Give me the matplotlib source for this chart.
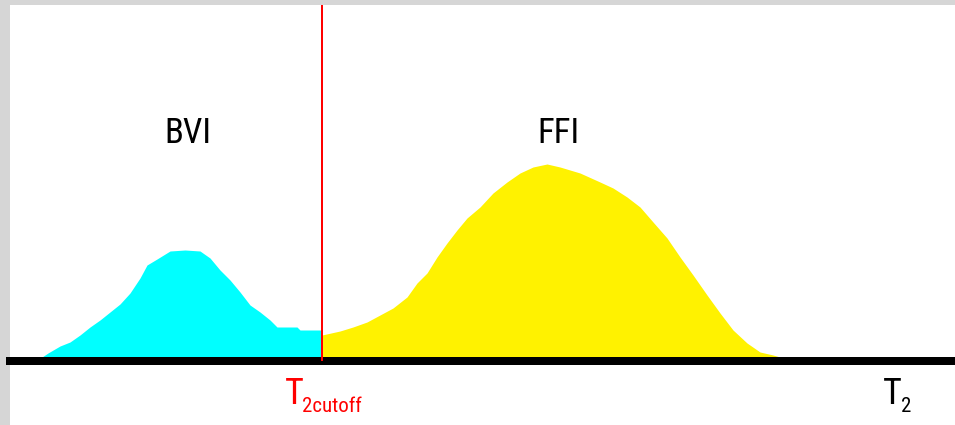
import matplotlib
matplotlib.use("Agg")
import matplotlib.pyplot as plt
from matplotlib.patches import Rectangle

# ---- data (x = T2 position, y = amplitude) ----
bvi_t2 = [42, 48, 60, 70, 80, 90, 100, 110, 120, 130, 140, 147, 157, 170,
          185, 200, 210, 220, 230, 240, 250, 260, 270, 277, 297, 300, 322]
bvi_amp = [0, 4, 11, 15, 22, 30, 37, 45, 53, 64, 79, 92, 98, 106,
           107, 106, 99, 87, 77, 65, 52, 45, 37, 30, 30, 27, 27]

ffi_t2 = [322, 340, 353, 367, 380, 393, 407, 417, 427, 437, 447, 457, 467,
          480, 493, 507, 520, 533, 547, 560, 580, 600, 613, 627, 640, 653,
          667, 680, 693, 707, 720, 733, 747, 760, 773, 780]
ffi_amp = [22, 26, 30, 35, 42, 49, 60, 74, 84, 100, 114, 127, 139,
           150, 164, 175, 184, 190, 193, 190, 184, 175, 169, 160, 150, 135,
           119, 100, 82, 62, 44, 27, 14, 5, 2, 0]

cutoff_t2 = 322
labels = ["BVI", "FFI"]
label_pos = [(188, 224), (558, 224)]

FONT = ["Liberation Sans Narrow", "Roboto Condensed", "Open Sans Condensed",
        "Liberation Sans", "DejaVu Sans"]

fig = plt.figure(figsize=(9.55, 4.25), dpi=100)
fig.patch.set_facecolor("white")

# scanned-looking grey border (top and left)
fig.add_artist(Rectangle((0, 1 - 5 / 425), 1, 5 / 425, transform=fig.transFigure,
                         facecolor="#d6d6d6", edgecolor="none", zorder=0))
fig.add_artist(Rectangle((0, 0), 10 / 955, 1, transform=fig.transFigure,
                         facecolor="#d6d6d6", edgecolor="none", zorder=0))

ax = fig.add_axes([0, 0, 1, 1])
ax.set_xlim(0, 955)
ax.set_ylim(-68, 357)
ax.axis("off")
ax.patch.set_alpha(0)

ax.fill_between(bvi_t2, 0, bvi_amp, color="#00ffff", linewidth=0, zorder=2)
ax.fill_between(ffi_t2, 0, ffi_amp, color="#fff200", linewidth=0, zorder=2)

# baseline (T2 axis)
ax.axhline(-4, xmin=10 / 955, xmax=1, color="black", linewidth=8 * 0.72, zorder=3)

# cutoff line
ax.plot([cutoff_t2, cutoff_t2], [-4, 352], color="#ff0000", linewidth=2 * 0.72,
        solid_capstyle="butt", zorder=4)

for lab, (x, y) in zip(labels, label_pos):
    ax.text(x, y, lab, ha="center", va="center", fontsize=25, family=FONT,
            fontstretch="condensed", color="black", zorder=5)

# axis labels
ax.text(285, -37, "T", ha="left", va="center", fontsize=26, family=FONT,
        fontstretch="condensed", color="#ff0000")
ax.text(302, -50, "2cutoff", ha="left", va="center", fontsize=15, family=FONT,
        fontstretch="condensed", color="#ff0000")
ax.text(883, -37, "T", ha="left", va="center", fontsize=26, family=FONT,
        fontstretch="condensed", color="black")
ax.text(901, -50, "2", ha="left", va="center", fontsize=15, family=FONT,
        fontstretch="condensed", color="black")

fig.savefig("out.png", dpi=100, facecolor="white")
